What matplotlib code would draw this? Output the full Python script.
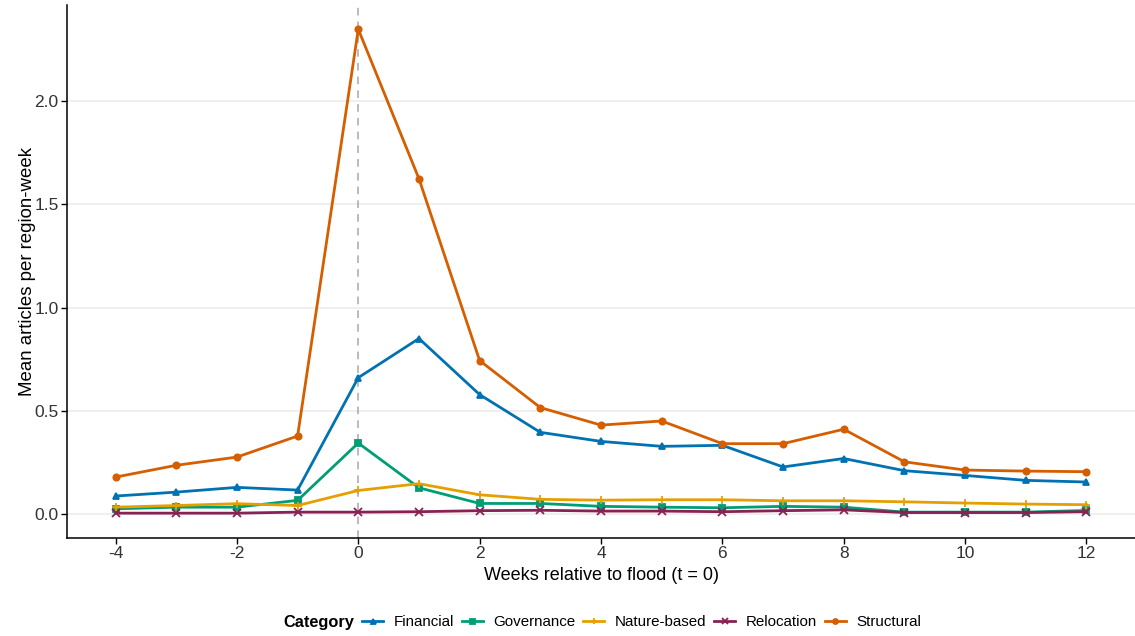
import numpy as np
import matplotlib
matplotlib.use("Agg")
import matplotlib.pyplot as plt

plt.rcParams['font.family'] = ['Liberation Sans', 'DejaVu Sans']
plt.rcParams['axes.unicode_minus'] = False

# weeks relative to flood
weeks = np.arange(-4, 13)

# mean articles per region-week
financial = [0.086, 0.105, 0.128, 0.115, 0.66, 0.85, 0.578, 0.395, 0.351, 0.327,
             0.332, 0.227, 0.268, 0.209, 0.186, 0.162, 0.154]
governance = [0.024, 0.032, 0.032, 0.065, 0.343, 0.126, 0.05, 0.05, 0.036, 0.032,
              0.029, 0.036, 0.032, 0.008, 0.008, 0.008, 0.016]
nature = [0.032, 0.04, 0.049, 0.04, 0.113, 0.146, 0.092, 0.07, 0.066, 0.068,
          0.068, 0.063, 0.063, 0.058, 0.052, 0.047, 0.044]
relocation = [0.003, 0.003, 0.003, 0.008, 0.008, 0.01, 0.015, 0.017, 0.013, 0.013,
              0.01, 0.015, 0.019, 0.006, 0.006, 0.006, 0.01]
structural = [0.178, 0.235, 0.275, 0.377, 2.35, 1.625, 0.743, 0.515, 0.43, 0.45,
              0.34, 0.34, 0.41, 0.252, 0.212, 0.207, 0.204]

categories = ['Financial', 'Governance', 'Nature-based', 'Relocation', 'Structural']
series = [financial, governance, nature, relocation, structural]
colors = ['#0072B2', '#009E73', '#E69F00', '#882255', '#D55E00']
markers = ['^', 's', '+', 'x', 'o']

fig = plt.figure(figsize=(11.35, 6.36), dpi=100)
ax = fig.add_axes([67/1135, 1 - 538/636, 1 - 67/1135, (538 - 5)/636])

ax.axvline(0, color='#a8a8a8', lw=1.1, ls=(0, (5, 4)), zorder=1)

handles = []
for vals, name, c, m in zip(series, categories, colors, markers):
    ms = 5.5 if m in ('+', 'x') else 4.5
    h, = ax.plot(weeks, vals, color=c, marker=m, ms=ms, mew=1.3, lw=2, label=name, zorder=3)
    handles.append(h)

ymax = max(structural)
pad = 0.05 * ymax
ax.set_ylim(-pad, ymax + pad)
ax.set_xlim(-4.8, 12.8)
ax.set_xticks(np.arange(-4, 13, 2))
ax.set_yticks([0.0, 0.5, 1.0, 1.5, 2.0])
ax.set_yticklabels(['0.0', '0.5', '1.0', '1.5', '2.0'])
ax.yaxis.grid(True, color='#ebebeb', lw=1.1)
ax.set_axisbelow(True)

for s in ['top', 'right']:
    ax.spines[s].set_visible(False)
for s in ['left', 'bottom']:
    ax.spines[s].set_linewidth(1.1)
ax.tick_params(labelsize=12.5, colors='black', length=4, width=1, pad=2)
ax.tick_params(labelcolor='#333333')

ax.set_xlabel('Weeks relative to flood (t = 0)', fontsize=13, labelpad=4)
ax.set_ylabel('Mean articles per region-week', fontsize=13.4, labelpad=-1)

fig.text(283/1135, 1 - 622/636, 'Category', fontsize=11.8, fontweight='bold',
         ha='left', va='center')
fig.legend(handles=handles, labels=categories, loc='center left',
           bbox_to_anchor=(362/1135, 1 - 622/636), ncol=5, frameon=False,
           fontsize=10.9, handlelength=1.4, handletextpad=0.7, columnspacing=0.5,
           markerscale=0.8, borderaxespad=0, borderpad=0)

fig.savefig('out.png', dpi=100)
